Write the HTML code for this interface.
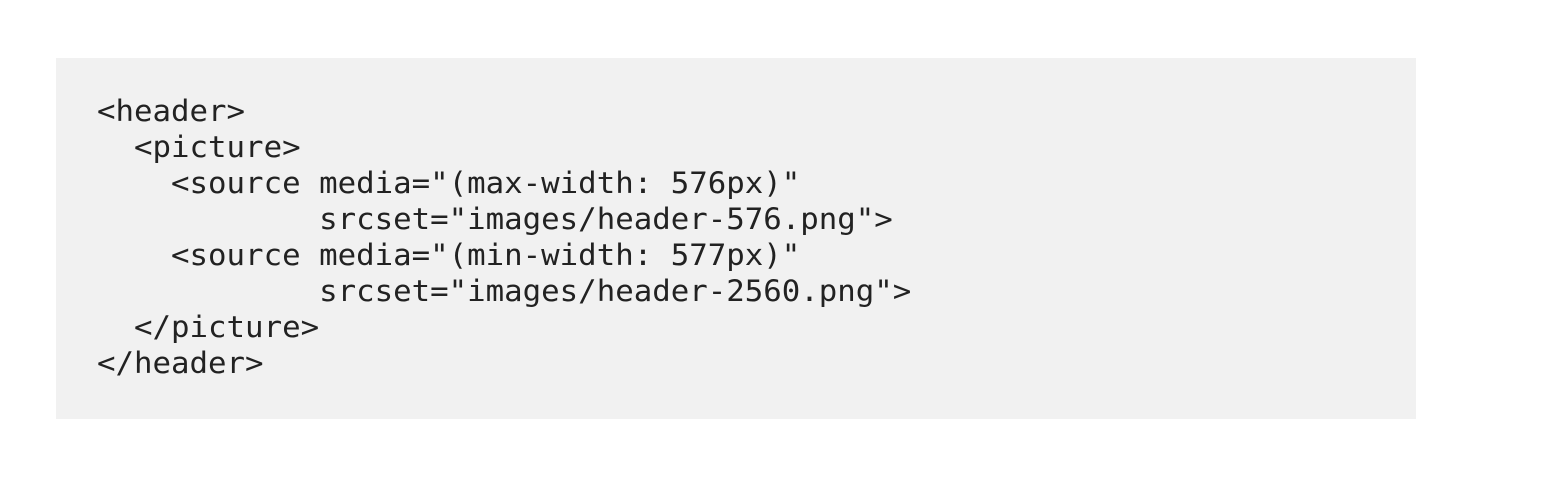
<!DOCTYPE html>
<html><head><meta charset="utf-8"><style>
html,body{margin:0;padding:0;background:#fff;width:1556px;height:502px;overflow:hidden}
.box{position:absolute;left:56px;top:58px;width:1360px;height:361px;background:#f1f1f1}
pre{position:absolute;left:97px;top:93px;margin:0;font-family:"DejaVu Sans Mono","Liberation Mono",monospace;font-size:29px;line-height:36px;color:#222;transform:scaleX(1.06);transform-origin:0 0}
</style></head><body>
<div class="box"></div>
<pre>&lt;header&gt;
  &lt;picture&gt;
    &lt;source media="(max-width: 576px)"
            srcset="images/header-576.png"&gt;
    &lt;source media="(min-width: 577px)"
            srcset="images/header-2560.png"&gt;
  &lt;/picture&gt;
&lt;/header&gt;</pre>
</body></html>
